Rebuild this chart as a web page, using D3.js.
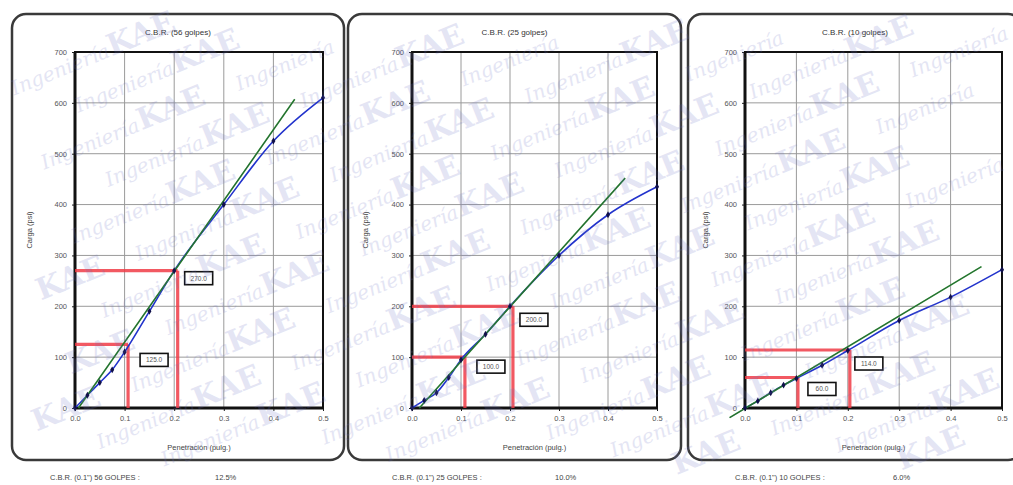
<!DOCTYPE html>
<html><head><meta charset="utf-8">
<script src="https://cdn.jsdelivr.net/npm/d3@7"></script>
<style>html,body{margin:0;padding:0;background:#fff;}svg{display:block;font-family:"Liberation Sans",Arial,sans-serif;}</style>
</head><body>
<svg id="c" width="1013" height="485"></svg>
<script>
// ---- data ----
const penetration = [0, 0.025, 0.05, 0.075, 0.1, 0.15, 0.2, 0.3, 0.4, 0.5];
const load56 = [0, 25, 50, 75, 110, 190, 270, 400, 525, 610];
const load25 = [0, 15, 30, 60, 95, 145, 200, 300, 380, 435];
const load10 = [0, 14, 30, 45, 58, 84, 113, 172, 218, 272];
const line56X = [0.007, 0.443], line56Y = [0, 607];
const line25X = [0.015, 0.435], line25Y = [0, 452];
const line10X = [-0.03, 0.46], line10Y = [-19, 278];
const corr56X = [0.107, 0.207], corr56Y = [125, 270];
const corr25X = [0.108, 0.206], corr25Y = [100, 200];
const corr10X = [0.103, 0.204], corr10Y = [60, 114];
const titles = ["C.B.R. (56 golpes)", "C.B.R. (25 golpes)", "C.B.R. (10 golpes)"];
const footLabels = ["C.B.R. (0.1\") 56 GOLPES :", "C.B.R. (0.1\") 25 GOLPES :", "C.B.R. (0.1\") 10 GOLPES :"];
const footValues = ["12.5%", "10.0%", "6.0%"];
const xTicks = [0, 0.1, 0.2, 0.3, 0.4, 0.5];
const yTicks = [0, 100, 200, 300, 400, 500, 600, 700];
const xTitle = "Penetración (pulg.)";
const yTitle = "Carga (psi)";
const watermarkWords = ["KAE", "Ingeniería"];

// ---- layout ----
const panels = [
  {box:[12,14,344,460], plot:[75,52,323,408], loads:load56, lx:line56X, ly:line56Y, cx:corr56X, cy:corr56Y, foot:[50,215], lbl:[[12,9],[7,1]]},
  {box:[348,14,681,460], plot:[412,52,657,408], loads:load25, lx:line25X, ly:line25Y, cx:corr25X, cy:corr25Y, foot:[392,555], lbl:[[12,3],[7,7]]},
  {box:[688,14,1022,460], plot:[745,52,1002,408], loads:load10, lx:line10X, ly:line10Y, cx:corr10X, cy:corr10Y, foot:[735,893], lbl:[[10,5],[5,7]]}
];

const svg = d3.select("#c");
svg.append("rect").attr("width",1013).attr("height",485).attr("fill","#fff");

panels.forEach((p,i)=>{
  const g = svg.append("g");
  const [bx0,by0,bx1,by1] = p.box;
  g.append("rect").attr("x",bx0).attr("y",by0).attr("width",bx1-bx0).attr("height",by1-by0)
    .attr("rx",14).attr("fill","#fff").attr("stroke","#3a3a3a").attr("stroke-width",2.5);
  const [px0,py0,px1,py1] = p.plot;
  const x = d3.scaleLinear().domain([0,0.5]).range([px0,px1]);
  const y = d3.scaleLinear().domain([0,700]).range([py1,py0]);

  // grid
  g.append("g").selectAll("line").data(xTicks.slice(1,-1)).join("line")
    .attr("x1",d=>x(d)).attr("x2",d=>x(d)).attr("y1",py0).attr("y2",py1)
    .attr("stroke","#9a9a9a").attr("stroke-width",1);
  g.append("g").selectAll("line").data(yTicks.slice(1,-1)).join("line")
    .attr("y1",d=>y(d)).attr("y2",d=>y(d)).attr("x1",px0).attr("x2",px1)
    .attr("stroke","#9a9a9a").attr("stroke-width",1);

  // axes
  const ax = g.append("g").attr("transform",`translate(0,${py1})`)
    .call(d3.axisBottom(x).tickValues(xTicks).tickFormat(d3.format(".1f")).tickSize(3).tickPadding(5));
  const ay = g.append("g").attr("transform",`translate(${px0},0)`)
    .call(d3.axisLeft(y).tickValues(yTicks).tickSize(3).tickPadding(5));
  [ax,ay].forEach(a=>{
    a.select(".domain").remove();
    a.selectAll("line").attr("stroke","#222");
    a.selectAll("text").attr("font-size",7.5).attr("fill","#555").attr("font-family","Liberation Sans, Arial, sans-serif");
  });
  // plot frame
  g.append("rect").attr("x",px0).attr("y",py0).attr("width",px1-px0).attr("height",py1-py0)
    .attr("fill","none").attr("stroke","#111").attr("stroke-width",2);
  g.append("line").attr("x1",px0).attr("x2",px0).attr("y1",py0).attr("y2",py1).attr("stroke","#111").attr("stroke-width",3);
  g.append("line").attr("x1",px0).attr("x2",px1).attr("y1",py1).attr("y2",py1).attr("stroke","#111").attr("stroke-width",3);

  // red correction lines
  p.cx.forEach((cxv,k)=>{
    const cyv = p.cy[k];
    g.append("line").attr("x1",x(0)).attr("x2",x(cxv)).attr("y1",y(cyv)).attr("y2",y(cyv))
      .attr("stroke","#f03c46").attr("stroke-width",3.2).attr("stroke-opacity",0.85);
    g.append("line").attr("x1",x(cxv)).attr("x2",x(cxv)).attr("y1",y(0)).attr("y2",y(cyv))
      .attr("stroke","#f03c46").attr("stroke-width",3.2).attr("stroke-opacity",0.85);
  });

  // blue curve
  const pts = penetration.map((d,k)=>[d,p.loads[k]]);
  g.append("path").datum(pts).attr("fill","none").attr("stroke","#2233cc").attr("stroke-width",1.6)
    .attr("d",d3.line().x(d=>x(d[0])).y(d=>y(d[1])).curve(d3.curveMonotoneX));
  // green line
  const gl = p.lx.map((d,k)=>[d,p.ly[k]]);
  g.append("path").datum(gl).attr("fill","none").attr("stroke","#3a9a3a").attr("stroke-width",1.6)
    .attr("d",d3.line().x(d=>x(d[0])).y(d=>y(d[1])));
  g.append("path").datum(gl).attr("fill","none").attr("stroke","#0c3a2a").attr("stroke-width",1.1).attr("stroke-opacity",0.5)
    .attr("d",d3.line().x(d=>x(d[0])).y(d=>y(d[1])));
  // markers
  g.append("g").selectAll("path").data(pts).join("path")
    .attr("transform",d=>`translate(${x(d[0])},${y(d[1])})`)
    .attr("d",d3.symbol().type(d3.symbolDiamond).size(14))
    .attr("fill","#10104a");

  // value boxes
  p.cx.forEach((cxv,k)=>{
    const cyv = p.cy[k];
    const bx = x(cxv)+p.lbl[k][0], by = y(cyv)+p.lbl[k][1];
    g.append("rect").attr("x",bx).attr("y",by).attr("width",28).attr("height",13)
      .attr("fill","#fff").attr("stroke","#111").attr("stroke-width",1.6);
    g.append("text").attr("x",bx+14).attr("y",by+9).attr("text-anchor","middle")
      .attr("font-size",6.5).attr("fill","#555").text(d3.format(".1f")(cyv));
  });

  // titles
  g.append("text").attr("x",(bx0+bx1)/2).attr("y",35).attr("text-anchor","middle")
    .attr("font-size",8).attr("fill","#333").text(titles[i]);
  g.append("text").attr("x",(px0+px1)/2).attr("y",450).attr("text-anchor","middle")
    .attr("font-size",7.5).attr("fill","#444").text(xTitle);
  g.append("text").attr("transform",`translate(${bx0+20},${(py0+py1)/2})rotate(-90)`).attr("text-anchor","middle")
    .attr("font-size",7.5).attr("fill","#444").text(yTitle);
  svg.append("text").attr("x",p.foot[0]).attr("y",480).attr("font-size",7.5).attr("fill","#444").text(footLabels[i]);
  svg.append("text").attr("x",p.foot[1]).attr("y",480).attr("font-size",7.5).attr("fill","#444").text(footValues[i]);
});

// watermark (decorative, dense, kept fully inside the picture)
const wm = svg.append("g").attr("pointer-events","none").attr("opacity",0.18)
  .attr("transform","rotate(-22 506 242)");
for (let r=-14; r<=14; r++){
  for (let k=-10; k<=12; k++){
    const word = watermarkWords[(k+r+40)%2];
    const t = wm.append("text")
      .attr("x", k*105 + (r%2)*52).attr("y", r*40 + 242)
      .attr("font-family","DejaVu Serif, serif")
      .attr("font-weight", word==="KAE" ? "bold" : "normal")
      .attr("font-style", word==="KAE" ? "normal" : "italic")
      .attr("font-size", word==="KAE" ? 30 : 20)
      .attr("fill","#6c72c4").text(word);
    const b = t.node().getBoundingClientRect();
    if (b.left < 1 || b.top < 1 || b.right > 1012 || b.bottom > 484) t.remove();
  }
}
</script>
</body></html>
